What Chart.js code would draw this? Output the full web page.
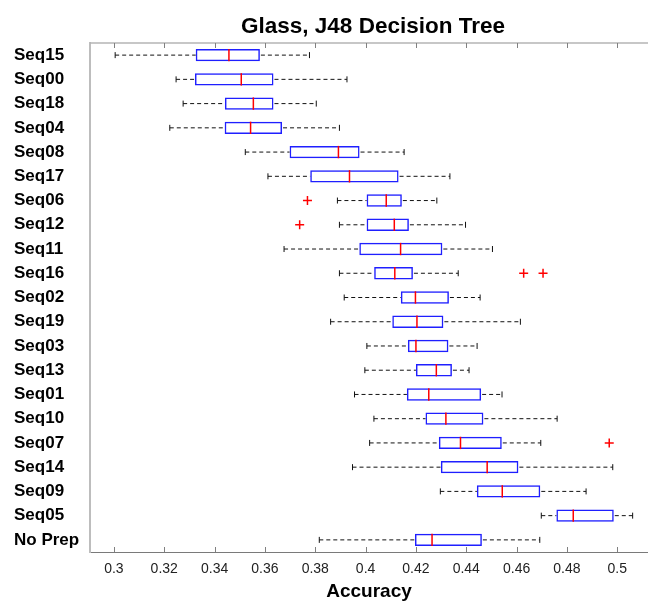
<!DOCTYPE html>
<html>
<head>
<meta charset="utf-8">
<title>Glass, J48 Decision Tree</title>
<script src="https://cdn.jsdelivr.net/npm/chart.js@4/dist/chart.umd.min.js"></script>
<style>
  html, body { margin: 0; padding: 0; background: #fff; }
  #wrap { width: 648px; height: 603px; }
</style>
</head>
<body>
<div id="wrap"><canvas id="c" width="648" height="603"></canvas></div>
<script>
// Preprocessing variants, listed top to bottom
const categories = ['Seq15', 'Seq00', 'Seq18', 'Seq04', 'Seq08', 'Seq17', 'Seq06', 'Seq12', 'Seq11', 'Seq16',
  'Seq02', 'Seq19', 'Seq03', 'Seq13', 'Seq01', 'Seq10', 'Seq07', 'Seq14', 'Seq09', 'Seq05', 'No Prep'];

// Five-number summaries of accuracy per variant
const whiskerLow  = [0.3005, 0.3247, 0.3275, 0.3222, 0.3522, 0.3612, 0.3888, 0.3896, 0.3676, 0.3896,
  0.3915, 0.3861, 0.4005, 0.3997, 0.3956, 0.4033, 0.4016, 0.3948, 0.4297, 0.4698, 0.3816];
const quartile1   = [0.3325, 0.3322, 0.3441, 0.3440, 0.3698, 0.3780, 0.4004, 0.4004, 0.3975, 0.4034,
  0.4140, 0.4106, 0.4168, 0.4200, 0.4164, 0.4238, 0.4291, 0.4299, 0.4442, 0.4758, 0.4196];
const medians     = [0.3457, 0.3506, 0.3554, 0.3543, 0.3892, 0.3936, 0.4082, 0.4114, 0.4139, 0.4116,
  0.4198, 0.4204, 0.4200, 0.4281, 0.4251, 0.4319, 0.4377, 0.4483, 0.4543, 0.4825, 0.4264];
const quartile3   = [0.3580, 0.3634, 0.3634, 0.3668, 0.3976, 0.4131, 0.4144, 0.4172, 0.4305, 0.4188,
  0.4331, 0.4309, 0.4329, 0.4343, 0.4459, 0.4468, 0.4541, 0.4607, 0.4694, 0.4986, 0.4462];
const whiskerHigh = [0.3777, 0.3926, 0.3804, 0.3896, 0.4153, 0.4335, 0.4283, 0.4397, 0.4504, 0.4368,
  0.4455, 0.4615, 0.4443, 0.4411, 0.4542, 0.4761, 0.4696, 0.4982, 0.4876, 0.5061, 0.4692];

// Outliers
const outlierCategory = ['Seq06', 'Seq12', 'Seq16', 'Seq16', 'Seq07'];
const outlierValue    = [0.3769, 0.3738, 0.4628, 0.4705, 0.4968];

// Accuracy axis
const xMin = 0.2905;
const xMax = 0.5122;
const xTickValues = [0.3, 0.32, 0.34, 0.36, 0.38, 0.4, 0.42, 0.44, 0.46, 0.48, 0.5];
const xTickLabels = ['0.3', '0.32', '0.34', '0.36', '0.38', '0.4', '0.42', '0.44', '0.46', '0.48', '0.5'];

Chart.defaults.font.family = '"Liberation Sans", Arial, Helvetica, sans-serif';

// Whiskers, caps, medians and the inward tick marks of the frame
const boxWhiskers = {
  id: 'boxWhiskers',
  afterLayout(chart) {
    const t = chart.titleBlock;
    if (t) { t.left = chart.chartArea.left + 8; t.right = chart.chartArea.right; }
  },
  afterDatasetsDraw(chart) {
    const { ctx, chartArea, scales: { x, y } } = chart;
    const meta = chart.getDatasetMeta(0);
    ctx.save();
    categories.forEach((cat, i) => {
      const bar = meta.data[i];
      const cy = y.getPixelForValue(i);
      const half = bar.height / 2;
      const xLo = x.getPixelForValue(whiskerLow[i]);
      const xQ1 = x.getPixelForValue(quartile1[i]);
      const xMed = x.getPixelForValue(medians[i]);
      const xQ3 = x.getPixelForValue(quartile3[i]);
      const xHi = x.getPixelForValue(whiskerHigh[i]);

      ctx.strokeStyle = '#111';
      ctx.lineWidth = 1;
      ctx.setLineDash([4, 3]);
      ctx.beginPath();
      ctx.moveTo(xLo, cy); ctx.lineTo(xQ1, cy);
      ctx.moveTo(xQ3 + 1, cy); ctx.lineTo(xHi, cy);
      ctx.stroke();

      ctx.setLineDash([]);
      ctx.beginPath();
      ctx.moveTo(xLo, cy - 3); ctx.lineTo(xLo, cy + 3);
      ctx.moveTo(xHi, cy - 3); ctx.lineTo(xHi, cy + 3);
      ctx.stroke();

      ctx.strokeStyle = '#ff0000';
      ctx.lineWidth = 1.5;
      ctx.beginPath();
      ctx.moveTo(xMed, cy - half); ctx.lineTo(xMed, cy + half);
      ctx.stroke();
    });

    // top frame line
    ctx.strokeStyle = '#b4b4b4';
    ctx.lineWidth = 1.5;
    ctx.beginPath();
    ctx.moveTo(chartArea.left, chartArea.top);
    ctx.lineTo(chartArea.right, chartArea.top);
    ctx.stroke();

    // tick marks pointing into the plot
    ctx.strokeStyle = '#808080';
    ctx.lineWidth = 1;
    ctx.beginPath();
    x.ticks.forEach(t => {
      const px = Math.round(x.getPixelForValue(t.value)) + 0.5;
      ctx.moveTo(px, chartArea.top); ctx.lineTo(px, chartArea.top + 5);
      ctx.moveTo(px, chartArea.bottom); ctx.lineTo(px, chartArea.bottom - 5);
    });
    ctx.stroke();
    ctx.restore();
  }
};

new Chart(document.getElementById('c'), {
  type: 'bar',
  data: {
    labels: categories,
    datasets: [
      {
        data: categories.map((c, i) => [quartile1[i], quartile3[i]]),
        backgroundColor: 'rgba(0,0,0,0)',
        borderColor: '#1f1fff',
        borderWidth: 1.5,
        borderSkipped: false,
        barPercentage: 0.51,
        categoryPercentage: 1
      },
      {
        type: 'scatter',
        data: outlierCategory.map((c, k) => ({ x: outlierValue[k], y: c })),
        pointStyle: 'cross',
        pointRadius: 4.5,
        borderColor: '#ff0000',
        backgroundColor: '#ff0000',
        borderWidth: 1.5
      }
    ]
  },
  options: {
    indexAxis: 'y',
    responsive: false,
    animation: false,
    events: [],
    layout: { autoPadding: false, padding: { left: 14, right: 0, top: 0, bottom: 0 } },
    plugins: {
      legend: { display: false },
      tooltip: { enabled: false },
      title: {
        display: true,
        text: 'Glass, J48 Decision Tree',
        color: '#000',
        font: { size: 22.5, weight: 'bold' },
        padding: { top: 13.5, bottom: 2.5 }
      }
    },
    scales: {
      x: {
        type: 'linear',
        position: 'bottom',
        offset: false,
        bounds: 'data',
        beginAtZero: false,
        min: xMin,
        max: xMax,
        afterBuildTicks: s => { s.ticks = xTickValues.map(v => ({ value: v })); },
        afterFit: s => { s.height = 51; s.paddingLeft = 0; s.paddingRight = 0; },
        grid: { display: false, drawTicks: false, offset: false },
        border: { display: true, color: '#7a7a7a', width: 1 },
        ticks: {
          padding: 9,
          color: '#222',
          font: { size: 14 },
          autoSkip: false,
          maxRotation: 0,
          callback: (v, i) => xTickLabels[i]
        },
        title: {
          display: true,
          text: 'Accuracy',
          color: '#000',
          font: { size: 19, weight: 'bold' },
          padding: { top: 4, bottom: 0 }
        }
      },
      y: {
        type: 'category',
        position: 'left',
        labels: categories,
        offset: true,
        afterFit: s => { s.width = 76; },
        grid: { display: false, drawTicks: false },
        border: { display: true, color: '#bdbdbd', width: 2 },
        ticks: {
          crossAlign: 'far',
          color: '#000',
          padding: 0,
          autoSkip: false,
          font: { size: 17, weight: 'bold' }
        }
      }
    }
  },
  plugins: [boxWhiskers]
});
</script>
</body>
</html>
